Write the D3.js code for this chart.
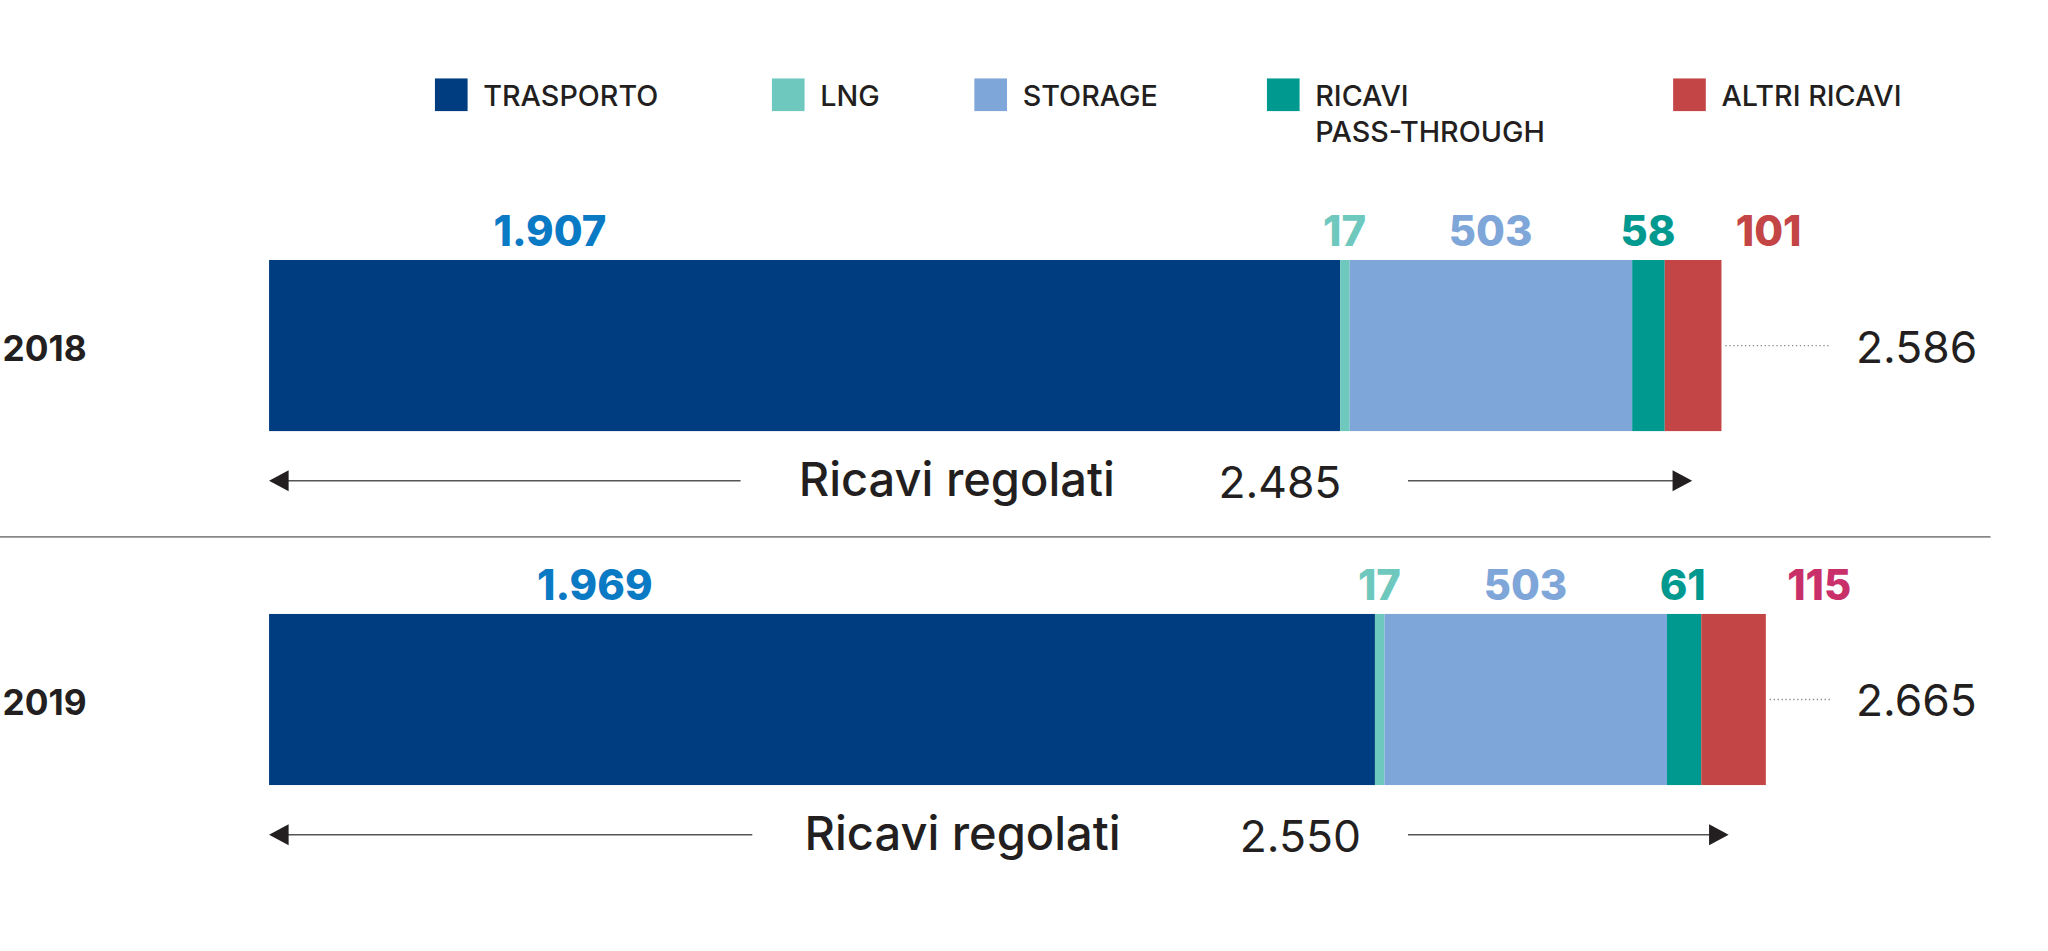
<!DOCTYPE html>
<html>
<head>
<meta charset="utf-8">
<script src="https://cdn.jsdelivr.net/npm/d3@7"></script>
<style>
  body { margin: 0; background: #fff; }
  text { font-family: "Inter", "Roboto", sans-serif; }
</style>
</head>
<body>
<svg id="chart" width="2048" height="951" viewBox="0 0 1568 728"></svg>
<script>
'use strict'
// chart data
var categories = ["TRASPORTO", "LNG", "STORAGE", "RICAVI PASS-THROUGH", "ALTRI RICAVI"];
var years = ["2018", "2019"];
var values2018 = [1907, 17, 503, 58, 101];
var values2019 = [1969, 17, 503, 61, 115];
var regulated = [2485, 2550];
var totals = [2586, 2665];
// where each value label sits, in data units along the bar
var labelAt2018 = [500, 1915, 2175, 2455, 2670];
var labelAt2019 = [580, 1977, 2237, 2517, 2760];

var barColors = ["#003c80", "#6fc8be", "#7fa6d8", "#009990", "#c44545"];
var labelColors2018 = ["#0a7ac4", "#6fc8be", "#7fa6d8", "#009990", "#c44545"];
var labelColors2019 = ["#0a7ac4", "#6fc8be", "#7fa6d8", "#009990", "#c9306a"];

var fmt = function(v){ return d3.format(",")(v).replace(/,/g, "."); };

var svg = d3.select("#chart");
var x = d3.scaleLinear().domain([0, 2586]).range([206, 1318]);

/* ===== legend ===== */
var legendX = [333, 591, 746, 970, 1281];
var legend = svg.selectAll(".leg").data(categories).enter().append("g")
	.attr("transform", function(d, i){ return "translate(" + legendX[i] + ",60)"; });
legend.append("rect").attr("width", 25).attr("height", 25)
	.attr("fill", function(d, i){ return barColors[i]; });
legend.append("text").attr("x", 37).attr("y", 21)
	.attr("font-size", 22).attr("font-weight", 500).attr("fill", "#231f20")
	.each(function(d){
		var parts = d === "RICAVI PASS-THROUGH" ? ["RICAVI", "PASS-THROUGH"] : [d];
		d3.select(this).selectAll("tspan").data(parts).enter().append("tspan")
			.attr("x", 37).attr("dy", function(p, j){ return j ? 28 : 0; })
			.text(function(p){ return p; });
	});

/* ===== rows ===== */
var rows = [
	{ year: years[0], values: values2018, labelAt: labelAt2018, colors: labelColors2018, top: 199 },
	{ year: years[1], values: values2019, labelAt: labelAt2019, colors: labelColors2019, top: 470 }
];
var barH = 131;

rows.forEach(function(row, r){
	var g = svg.append("g");
	var acc = 0;
	var segs = row.values.map(function(v){ var s = { x0: acc, x1: acc + v }; acc += v; return s; });

	g.selectAll("rect").data(segs).enter().append("rect")
		.attr("x", function(d){ return x(d.x0); })
		.attr("width", function(d){ return x(d.x1) - x(d.x0); })
		.attr("y", row.top).attr("height", barH)
		.attr("fill", function(d, i){ return barColors[i]; });

	g.selectAll(".val").data(row.values).enter().append("text")
		.attr("x", function(d, i){ return x(row.labelAt[i]); })
		.attr("y", row.top - 11)
		.attr("text-anchor", "middle")
		.attr("font-size", 32).attr("font-weight", 800)
		.attr("fill", function(d, i){ return row.colors[i]; })
		.text(function(d){ return fmt(d); });

	var midY = row.top + barH / 2;
	g.append("text").attr("x", 2).attr("y", midY + 12)
		.attr("font-size", 27).attr("font-weight", 700).attr("fill", "#231f20")
		.text(row.year);

	// dotted leader to total
	g.append("line").attr("x1", x(totals[r]) + 3).attr("x2", 1402)
		.attr("y1", midY).attr("y2", midY)
		.attr("stroke", "#888").attr("stroke-width", 1).attr("stroke-dasharray", "1,2");
	g.append("text").attr("x", 1421).attr("y", midY + 13)
		.attr("font-size", 34).attr("fill", "#231f20").text(fmt(totals[r]));

	// regulated revenue arrow
	var ay = row.top + barH + 38;
	var xEnd = x(regulated[r]);
	var txtL = r === 0 ? 567 : 576;
	g.append("line").attr("x1", 218).attr("x2", txtL).attr("y1", ay).attr("y2", ay)
		.attr("stroke", "#555").attr("stroke-width", 1.2);
	g.append("line").attr("x1", 1078).attr("x2", xEnd + 8).attr("y1", ay).attr("y2", ay)
		.attr("stroke", "#555").attr("stroke-width", 1.2);
	g.append("path").attr("d", "M206," + ay + "l15,-8v16z").attr("fill", "#231f20");
	g.append("path").attr("d", "M" + (xEnd + 21) + "," + ay + "l-15,-8v16z").attr("fill", "#231f20");
	g.append("text").attr("x", (txtL + 1078) / 2 - (r === 0 ? 90 : 90)).attr("y", ay + 12)
		.attr("text-anchor", "middle").attr("font-size", 36).attr("font-weight", 500)
		.attr("fill", "#231f20").text("Ricavi regolati");
	g.append("text").attr("x", r === 0 ? 1027 : 1042).attr("y", ay + 13)
		.attr("text-anchor", "end").attr("font-size", 34)
		.attr("fill", "#231f20").text(fmt(regulated[r]));
});

// separator between years
svg.append("line").attr("x1", 0).attr("x2", 1524).attr("y1", 411).attr("y2", 411)
	.attr("stroke", "#888").attr("stroke-width", 1.2);
</script>
</body>
</html>
